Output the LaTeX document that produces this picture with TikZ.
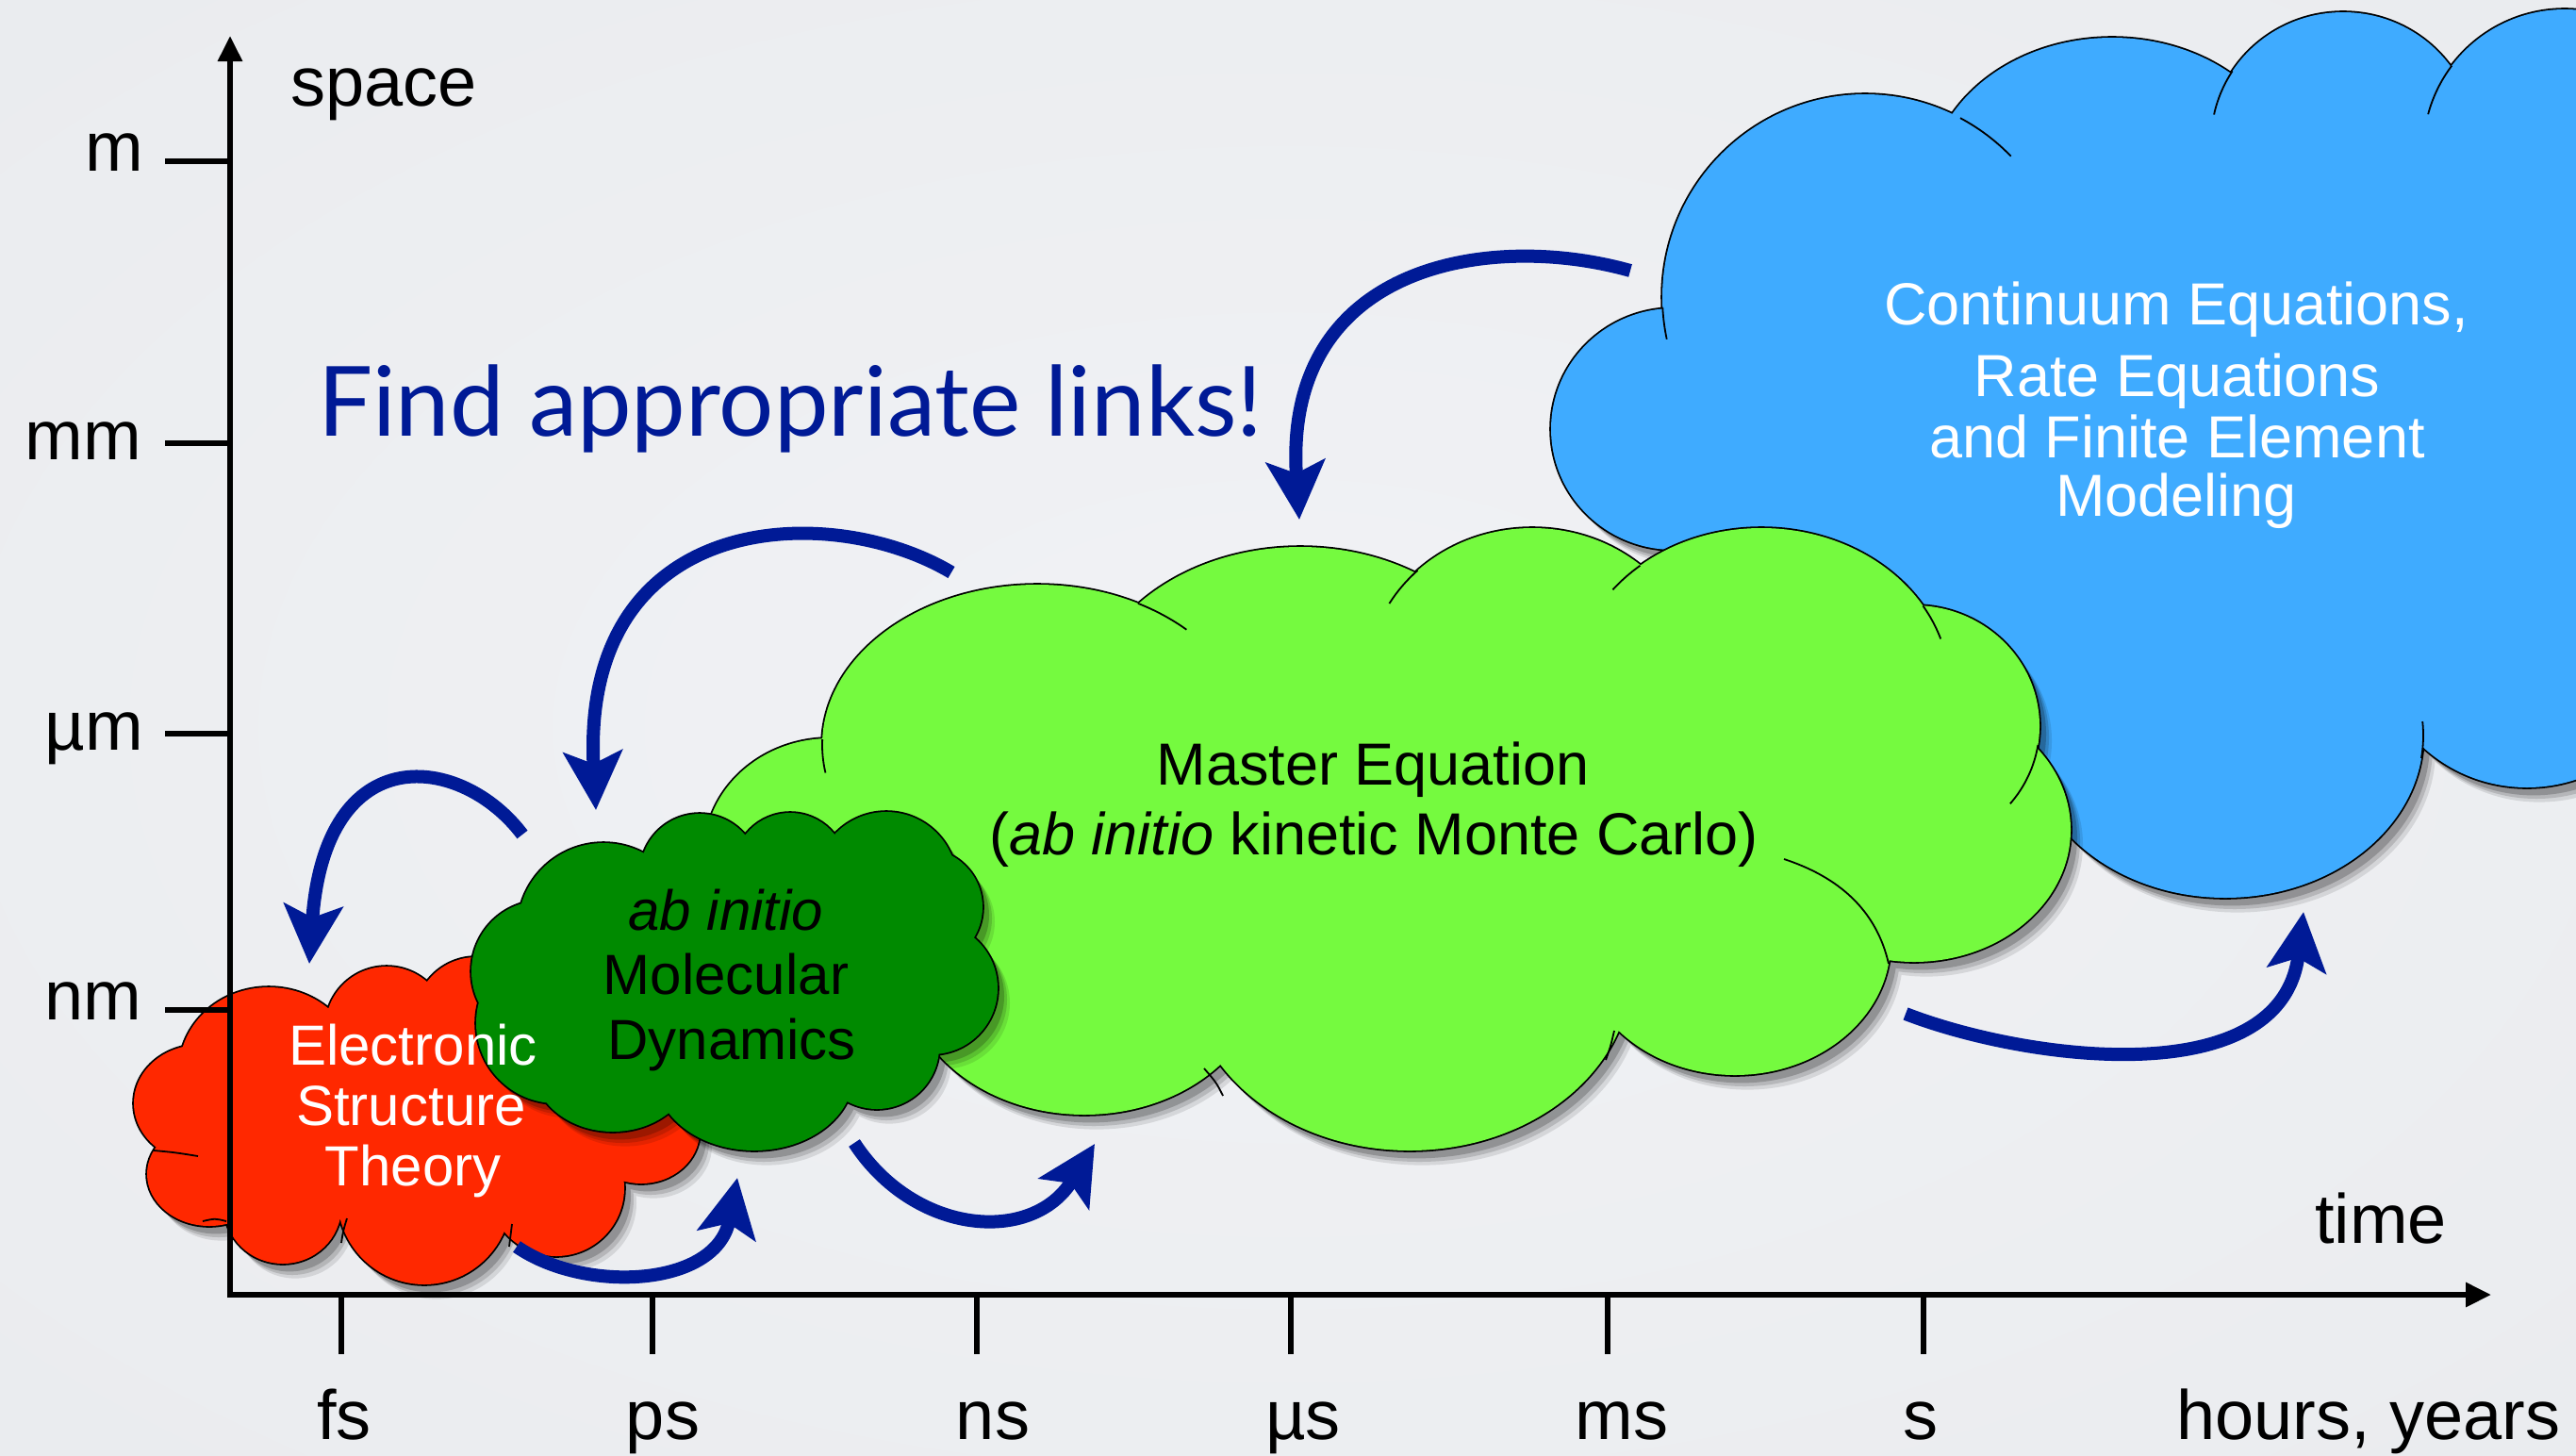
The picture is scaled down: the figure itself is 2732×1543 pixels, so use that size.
\documentclass[tikz,border=0pt]{standalone}
\usepackage{fontspec}
\setmainfont{Liberation Sans}
\newfontfamily\linkfont{Lato}
\usepackage{graphicx}
\usetikzlibrary{arrows.meta}
\definecolor{linkblue}{RGB}{0,26,150}
\definecolor{cblue}{RGB}{63,171,255}
\definecolor{cgreen}{RGB}{117,250,63}
\definecolor{cdgreen}{RGB}{0,138,0}
\definecolor{cred}{RGB}{255,40,0}
\definecolor{bgin}{RGB}{241,242,245}
\definecolor{bgmid}{RGB}{233,235,238}
\definecolor{bgout}{RGB}{214,217,222}
\pgfdeclareradialshading{bgshade}{\pgfpoint{0bp}{0bp}}{color(0bp)=(bgin); color(40bp)=(bgmid); color(71bp)=(bgout)}

\def\bluelist{1775/455/130pt/128pt, 1978/315/215pt/215pt, 2240/200/195pt/160pt, 2485/150/140pt/137pt, 2720/160/150pt/150pt, 2780/450/200pt/260pt, 2680/680/160pt/155pt, 2360/780/210pt/172pt, 2250/480/420pt/330pt, 2560/300/220pt/220pt, 2600/560/200pt/200pt}
\def\greenlist{880/905/133pt/122pt, 1100/790/228pt/170pt, 1379/760/230pt/180pt, 1625/720/175pt/160pt, 1868/730/200pt/170pt, 2030/770/133pt/128pt, 2030/880/166pt/140pt, 1840/1000/165pt/140pt, 1495/1030/235pt/190pt, 1150/1030/190pt/152pt, 1450/880/560pt/230pt}
\def\redlist{285/1135/95pt/88pt, 410/1090/65pt/65pt, 505/1080/65pt/65pt, 620/1130/80pt/80pt, 680/1200/62pt/55pt, 590/1260/72pt/72pt, 450/1270/92pt/92pt, 300/1280/62pt/60pt, 222/1245/66pt/55pt, 212/1170/70pt/62pt, 430/1180/200pt/110pt}
\def\dgreenlist{640/985/91pt/91pt, 742/926/63pt/63pt, 838/922/60pt/60pt, 940/936/75pt/75pt, 980/962/62pt/62pt, 988/1048/70pt/70pt, 930/1110/66pt/66pt, 800/1140/105pt/80pt, 650/1130/85pt/70pt, 590/1085/85pt/85pt, 575/1030/75pt/75pt, 780/1040/220pt/120pt}

\newcommand\cloudshape[2]{%
  \foreach \o/\op in {13/0.10,10/0.14,7/0.2}{%
    \fill[black,opacity=\op,shift={(\o,1.2*\o)}] \foreach \x/\y/\a/\b in #1 {(\x,\y) ellipse[x radius=\a,y radius=\b]};
  }%
  \draw[line width=3.6pt] \foreach \x/\y/\a/\b in #1 {(\x,\y) ellipse[x radius=\a,y radius=\b]};
  \fill[#2] \foreach \x/\y/\a/\b in #1 {(\x,\y) ellipse[x radius=\a,y radius=\b]};
}
\newcommand\iarc[6]{\draw[cloudline] (#1,#2) ++(#5:#3 and #4) arc[start angle=#5,end angle=#6,x radius=#3,y radius=#4];}

\begin{document}
\begin{tikzpicture}[x=1pt,y=-1pt,
  lbl/.style={font=\fontsize{74pt}{74pt}\selectfont, inner sep=0pt},
  ctext/.style={font=\fontsize{63pt}{63pt}\selectfont, inner sep=0pt, anchor=base},
  stext/.style={font=\fontsize{60pt}{60pt}\selectfont, inner sep=0pt, anchor=base},
  axisline/.style={line width=6pt},
  tickline/.style={line width=6pt},
  link/.style={draw=linkblue, line width=14pt, -{Stealth[length=62pt,width=62pt,inset=13pt]}},
  cloudline/.style={line width=1.8pt}
]
\useasboundingbox (0,0) rectangle (2732,1543);
\clip (0,0) rectangle (2732,1543);
\shade[shading=bgshade] (0,0) rectangle (2732,1543);

% blue cloud
\cloudshape{\bluelist}{cblue}
\iarc{1978}{315}{215pt}{215pt}{183}{192}
\iarc{1978}{315}{215pt}{215pt}{62}{44}
\iarc{2485}{150}{140pt}{137pt}{147}{168}
\iarc{2720}{160}{150pt}{150pt}{143}{165}
\iarc{2360}{780}{210pt}{172pt}{-8}{5}

% light green cloud
\cloudshape{\greenlist}{cgreen}
\iarc{1100}{790}{228pt}{170pt}{178}{190}
\iarc{1100}{790}{228pt}{170pt}{62}{46}
\iarc{1625}{720}{175pt}{160pt}{134}{150}
\iarc{1868}{730}{200pt}{170pt}{130}{142}
\iarc{1868}{730}{200pt}{170pt}{31}{18}
\iarc{2030}{770}{133pt}{128pt}{-9}{-40}
\draw[cloudline] (2003,1022) .. controls (1990,965) and (1950,930) .. (1892,911);
\draw[cloudline] (1297,1162) .. controls (1290,1148) .. (1277,1133);
\draw[cloudline] (1712,1093) .. controls (1708,1110) .. (1703,1124);

% red cloud
\cloudshape{\redlist}{cred}
\draw[cloudline] (163,1220) .. controls (185,1222) .. (210,1226);
\draw[cloudline] (215,1295) .. controls (228,1292) .. (240,1295);
\draw[cloudline] (362,1318) .. controls (364,1305) .. (368,1292);
\draw[cloudline] (543,1298) .. controls (542,1310) .. (540,1322);

% dark green cloud
\cloudshape{\dgreenlist}{cdgreen}

% cloud texts
\node[ctext,text=white] (t1) at (2308,344) {Continuum Equations,};
\node[ctext,text=white] (t2) at (2309,420) {Rate Equations};
\node[ctext,text=white] (t3) at (2309,485) {and Finite Element};
\node[ctext,text=white] (t4) at (2308,547) {Modeling};
\node[ctext] (g1) at (1456,832) {Master Equation};
\node[ctext] (g2) at (1457,906) {(\textit{ab initio} kinetic Monte Carlo)};
\node[stext] (d1) at (770,986) {\textit{ab initio}};
\node[stext] (d2) at (770,1054) {Molecular};
\node[stext] (d3) at (776,1123) {Dynamics};
\node[stext,text=white] (r1) at (438,1129) {Electronic};
\node[stext,text=white] (r2) at (436,1193) {Structure};
\node[stext,text=white] (r3) at (438,1257) {Theory};

% title
\node[inner sep=0pt,anchor=base west,text=linkblue] (title) at (337,462)
  {\resizebox{1002pt}{!}{\fontsize{108pt}{108pt}\linkfont Find appropriate links!}};

% axes
\coordinate (ytop) at (244,38);
\coordinate (xend) at (2642,1373);
\draw[axisline,-{Triangle[length=27pt,width=25pt]}] (244,1376) -- (ytop);
\draw[axisline,-{Triangle[length=27pt,width=25pt]}] (241,1373) -- (xend);
\foreach \yy in {171,470,778,1071}{\draw[tickline] (175,\yy) -- (244,\yy);}
\foreach \xx in {362,692,1036,1369,1705,2040}{\draw[tickline] (\xx,1373) -- (\xx,1436);}

\node[lbl,anchor=base east] (lm) at (152,181) {m};
\node[lbl,anchor=base east] (lmm) at (150,487) {mm};
\node[lbl,anchor=base east] (lum) at (152,795) {µm};
\node[lbl,anchor=base east] (lnm) at (150,1081) {nm};
\node[lbl,anchor=base west] (lspace) at (308,112) {space};
\node[lbl,anchor=base west] (ltime) at (2455,1318) {time};
\node[lbl,anchor=base] (lfs) at (365,1526) {fs};
\node[lbl,anchor=base] (lps) at (703,1526) {ps};
\node[lbl,anchor=base] (lns) at (1053,1526) {ns};
\node[lbl,anchor=base] (lus) at (1382,1526) {µs};
\node[lbl,anchor=base] (lms) at (1720,1526) {ms};
\node[lbl,anchor=base] (ls) at (2037,1526) {s};
\node[lbl,anchor=base] (lhy) at (2512,1526) {hours, years};

% links
\coordinate (a1s) at (1729,287); \coordinate (a1e) at (1378,551);
\coordinate (a2s) at (1009,607); \coordinate (a2e) at (632,859);
\coordinate (a3s) at (554,885);  \coordinate (a3e) at (328,1022);
\coordinate (a4s) at (548,1322); \coordinate (a4e) at (782,1249);
\coordinate (a5s) at (906,1212); \coordinate (a5e) at (1161,1213);
\coordinate (a6s) at (2021,1075); \coordinate (a6e) at (2443,967);
\draw[link] (a1s) .. controls (1580,245) and (1360,280) .. (a1e);
\draw[link] (a2s) .. controls (880,530) and (615,540) .. (a2e);
\draw[link] (a3s) .. controls (490,800) and (345,780) .. (a3e);
\draw[link] (a4s) .. controls (620,1372) and (760,1365) .. (a4e);
\draw[link] (a5s) .. controls (970,1310) and (1095,1320) .. (a5e);
\draw[link] (a6s) .. controls (2150,1125) and (2420,1160) .. (a6e);
\end{tikzpicture}
\end{document}
